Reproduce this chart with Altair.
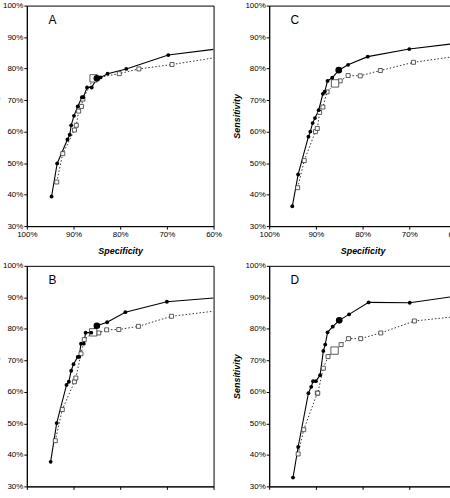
import altair as alt
import pandas as pd

# ---- Panel A ----
a_solid_spec = [94.7, 93.5, 91.3, 90.8, 90.5, 89.9, 89.1, 88.2, 87.9, 87.1, 86.1, 85.0, 84.7, 84.2, 82.7, 78.7, 69.7, 60.0]
a_solid_sens = [39.4, 49.9, 57.5, 59.0, 62.0, 65.0, 68.0, 70.9, 70.9, 74.0, 74.0, 76.9, 76.9, 77.2, 78.4, 79.9, 84.3, 86.1]
a_solid_big = 11
a_dot_spec = [93.6, 92.3, 89.8, 89.4, 88.9, 88.3, 88.0, 85.7, 80.2, 76.0, 68.9, 60.0]
a_dot_sens = [44.0, 53.0, 60.5, 62.0, 66.5, 68.0, 70.3, 76.9, 78.4, 79.9, 81.3, 83.4]
a_dot_big = 7

# ---- Panel C ----
c_solid_spec = [95.05, 93.8, 91.6, 91.2, 90.7, 90.2, 89.4, 88.5, 88.1, 87.5, 86.5, 85.1, 83.1, 78.9, 70.0, 60.0]
c_solid_sens = [36.3, 46.4, 58.4, 60.0, 62.7, 64.3, 66.8, 72.0, 72.7, 76.1, 77.1, 79.5, 81.2, 83.8, 86.2, 88.0]
c_solid_big = 11
c_dot_spec = [93.9, 92.5, 90.1, 89.7, 89.2, 88.5, 87.6, 85.9, 84.8, 83.1, 80.5, 76.2, 69.1, 60.0]
c_dot_sens = [42.2, 50.8, 60.0, 61.0, 66.1, 67.8, 72.6, 75.3, 76.1, 77.8, 77.7, 79.4, 82.0, 83.9]
c_dot_big = 7

# ---- Panel B ----
b_solid_spec = [94.9, 93.6, 91.5, 91.0, 90.5, 90.0, 89.1, 88.8, 88.4, 87.8, 87.4, 86.2, 85.0, 82.8, 78.9, 70.0, 60.0]
b_solid_sens = [37.8, 50.1, 62.2, 63.2, 66.7, 68.8, 71.1, 71.1, 75.3, 75.3, 78.8, 78.8, 81.0, 82.1, 85.3, 88.6, 89.8]
b_solid_big = 12
b_dot_spec = [93.9, 92.4, 89.8, 89.5, 88.4, 87.7, 85.8, 84.6, 82.9, 80.3, 76.1, 69.0, 60.0]
b_dot_sens = [44.5, 54.4, 63.2, 64.4, 72.1, 76.6, 78.9, 78.7, 79.7, 79.8, 80.8, 84.0, 85.6]
b_dot_big = 6

# ---- Panel D ----
d_solid_spec = [94.9, 93.8, 91.6, 91.0, 90.6, 90.0, 89.1, 88.4, 88.0, 87.5, 86.4, 85.0, 82.9, 78.7, 69.9, 60.0]
d_solid_sens = [32.8, 42.5, 59.6, 61.6, 63.4, 63.4, 65.3, 73.0, 75.0, 78.9, 80.7, 82.7, 84.6, 88.4, 88.3, 90.4]
d_solid_big = 11
d_dot_spec = [93.8, 92.6, 89.7, 89.6, 88.4, 87.4, 86.0, 84.6, 83.0, 80.4, 76.1, 68.9, 60.0]
d_dot_sens = [40.3, 48.0, 59.6, 59.6, 67.5, 71.2, 73.1, 75.0, 76.9, 76.9, 78.7, 82.5, 83.9]
d_dot_big = 6

x_ticks = [100, 90, 80, 70, 60]
y_ticks = [30, 40, 50, 60, 70, 80, 90, 100]
FONT = "Liberation Sans"


def make_df(ss, sv, sbig, ds, dv, dbig):
    rows = []
    for i, (x, y) in enumerate(zip(ss, sv)):
        rows.append({"spec": x, "sens": y, "series": "solid", "idx": i, "big": i == sbig})
    for i, (x, y) in enumerate(zip(ds, dv)):
        rows.append({"spec": x, "sens": y, "series": "dot", "idx": i, "big": i == dbig})
    return pd.DataFrame(rows)


def panel(letter, ss, sv, sbig, ds, dv, dbig):
    df = make_df(ss, sv, sbig, ds, dv, dbig)
    x = alt.X("spec:Q", scale=alt.Scale(domain=[100, 60], nice=False, zero=False),
              axis=alt.Axis(values=x_ticks, tickCount=10, title="Specificity", titlePadding=9,
                            labelExpr="datum.value + '%'", labelOverlap=False, labelFlush=False))
    y = alt.Y("sens:Q", scale=alt.Scale(domain=[30, 100], nice=False, zero=False),
              axis=alt.Axis(values=y_ticks, tickCount=10, title="Sensitivity", titlePadding=3,
                            labelExpr="datum.value + '%'", labelOverlap=False, labelFlush=False))
    base = alt.Chart(df).encode(x=x, y=y, order="idx:Q")
    solid_line = base.transform_filter("datum.series == 'solid'").mark_line(
        color="black", strokeWidth=1.1, clip=True)
    dot_line = base.transform_filter("datum.series == 'dot'").mark_line(
        color="#333333", strokeWidth=1, strokeDash=[1.5, 2], clip=True)
    pts = base.transform_filter("datum.spec > 60.5")
    solid_pts = pts.transform_filter("datum.series == 'solid' && !datum.big").mark_point(
        shape="circle", filled=True, color="black", size=15, opacity=1, clip=True)
    solid_big = pts.transform_filter("datum.series == 'solid' && datum.big").mark_point(
        shape="circle", filled=True, color="black", size=45, opacity=1, clip=True)
    dot_pts = pts.transform_filter("datum.series == 'dot' && !datum.big").mark_point(
        shape="square", filled=True, fill="white", stroke="#333333", strokeWidth=0.8,
        size=16, opacity=1, clip=True)
    dot_big = pts.transform_filter("datum.series == 'dot' && datum.big").mark_point(
        shape="square", filled=True, fill="white", stroke="#333333", strokeWidth=0.8,
        size=55, opacity=1, clip=True)
    lab = alt.Chart(pd.DataFrame({"spec": [94.5], "sens": [95.5], "t": [letter]})).mark_text(
        font=FONT, fontSize=12, color="black", align="center", baseline="middle"
    ).encode(x=alt.X("spec:Q"), y=alt.Y("sens:Q"), text="t:N")
    return alt.layer(dot_line, solid_line, dot_pts, dot_big, solid_pts, solid_big, lab).properties(
        width=188, height=222)


A = panel("A", a_solid_spec, a_solid_sens, a_solid_big, a_dot_spec, a_dot_sens, a_dot_big)
C = panel("C", c_solid_spec, c_solid_sens, c_solid_big, c_dot_spec, c_dot_sens, c_dot_big)
B = panel("B", b_solid_spec, b_solid_sens, b_solid_big, b_dot_spec, b_dot_sens, b_dot_big)
D = panel("D", d_solid_spec, d_solid_sens, d_solid_big, d_dot_spec, d_dot_sens, d_dot_big)

chart = alt.concat(A, C, B, D, columns=2, spacing={"row": 4, "column": 10}).properties(
    padding={"left": -10, "top": -1, "right": -15, "bottom": -29}, background="white"
).configure_view(stroke="black", strokeWidth=1).configure_axis(
    grid=False, domainColor="black", tickColor="black", tickSize=3, labelPadding=1,
    labelFont=FONT, labelFontSize=8, labelColor="black",
    titleFont=FONT, titleFontSize=9, titleFontStyle="italic", titleFontWeight="bold",
    titleColor="black",
)

chart.save("out.html", embed_options={"renderer": "svg", "actions": False})
